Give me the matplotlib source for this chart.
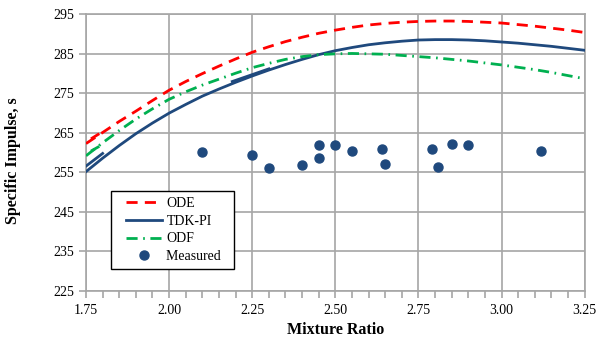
import matplotlib
matplotlib.use("Agg")
import matplotlib.pyplot as plt
from matplotlib.lines import Line2D
from matplotlib.legend_handler import HandlerLine2D
from matplotlib.ticker import MultipleLocator, FixedLocator

plt.rcParams['font.family'] = ['Liberation Serif', 'DejaVu Serif']

# mixture ratio grid for the model curves
mr = [1.75, 1.80, 1.85, 1.90, 1.95, 2.00, 2.05, 2.10, 2.15, 2.20, 2.25,
      2.30, 2.35, 2.40, 2.45, 2.50, 2.55, 2.60, 2.65, 2.70, 2.75,
      2.80, 2.85, 2.90, 2.95, 3.00, 3.05, 3.10, 3.15, 3.20, 3.25]
isp_ode = [262.3, 265.1, 267.9, 270.5, 273.2, 275.8, 278.0, 280.0, 281.9, 283.7, 285.4,
           286.8, 288.1, 289.2, 290.2, 291.0, 291.7, 292.3, 292.7, 293.0, 293.2,
           293.3, 293.3, 293.2, 293.0, 292.8, 292.4, 292.0, 291.5, 291.0, 290.4]
isp_tdk = [255.2, 258.6, 261.8, 264.8, 267.5, 270.0, 272.2, 274.3, 276.1, 277.8, 279.4,
           280.9, 282.3, 283.6, 284.8, 285.8, 286.6, 287.3, 287.8, 288.2, 288.5,
           288.6, 288.6, 288.5, 288.3, 288.0, 287.7, 287.3, 286.9, 286.4, 285.9]
isp_odf = [259.2, 262.5, 265.6, 268.5, 271.1, 273.5, 275.4, 277.1, 278.6, 280.1, 281.5,
           282.6, 283.6, 284.3, 284.8, 285.0, 285.1, 285.0, 284.9, 284.6, 284.3,
           284.0, 283.6, 283.2, 282.7, 282.2, 281.6, 281.0, 280.3, 279.5, 278.7]

# short doubled pieces of the model traces
tdk_extra_x = [1.75, 1.80]
tdk_extra_y = [256.6, 259.8]
tdk_extra2_x = [2.19, 2.30]
tdk_extra2_y = [278.0, 281.2]
odf_extra_x = [1.765, 1.79]
odf_extra_y = [260.4, 261.6]
ode_extra_x = [1.765, 1.79]
ode_extra_y = [263.5, 264.8]

# test data
mr_meas = [2.10, 2.25, 2.30, 2.40, 2.45, 2.45, 2.50, 2.55, 2.64, 2.65, 2.79, 2.81, 2.85, 2.90, 3.12]
isp_meas = [260.2, 259.5, 256.2, 257.0, 261.9, 258.7, 261.9, 260.3, 261.0, 257.2, 261.0, 256.5, 262.3, 261.9, 260.3]

y_ticks = [225, 235, 245, 255, 265, 275, 285, 295]

RED = '#ff0000'
BLUE = '#1f497d'
GREEN = '#00b050'
GRID = '#a6a6a6'

fig = plt.figure(figsize=(5.96, 3.41), dpi=100)
ax = fig.add_axes([0.1443, 0.1466, 0.8367, 0.8114])

lw = 2.0
ax.plot(mr, isp_ode, color=RED, lw=lw, dashes=(4, 2.6), label='ODE', zorder=3)
ax.plot(mr, isp_tdk, color=BLUE, lw=lw, label='TDK-PI', zorder=3)
ax.plot(mr, isp_odf, color=GREEN, lw=lw, dashes=(4, 2, 0.6, 2), label='ODF', zorder=3)
ax.plot(tdk_extra_x, tdk_extra_y, color=BLUE, lw=lw, zorder=3)
ax.plot(tdk_extra2_x, tdk_extra2_y, color=BLUE, lw=lw, zorder=3)
ax.plot(odf_extra_x, odf_extra_y, color=GREEN, lw=lw, dashes=(4, 2, 0.6, 2), zorder=3)
ax.plot(ode_extra_x, ode_extra_y, color=RED, lw=lw, dashes=(4, 2.6), zorder=3)
ax.plot(mr_meas, isp_meas, 'o', color=BLUE, ms=6.5, label='Measured  ', zorder=4)

ax.set_xlim(1.75, 3.25)
ax.set_ylim(225, 295)
ax.xaxis.set_major_locator(MultipleLocator(0.25))
ax.xaxis.set_minor_locator(MultipleLocator(0.05))
ax.yaxis.set_major_locator(FixedLocator(y_ticks))
ax.set_xticklabels([f"{v:.2f}" for v in ax.get_xticks()])

ax.grid(True, which='major', color=GRID, lw=1.2)
for s in ax.spines.values():
    s.set_color(GRID)
    s.set_linewidth(1.2)
ax.tick_params(which='both', direction='out', color=GRID, width=1.2, length=5, labelsize=10)
ax.tick_params(axis='x', pad=4)

ax.set_xlabel('Mixture Ratio', fontsize=11.5, fontweight='bold')
ax.set_ylabel('Specific Impulse, s', fontsize=11.5, fontweight='bold')
ax.yaxis.set_label_coords(-0.13, 0.47)

leg = ax.legend(loc='lower left', bbox_to_anchor=(0.05, 0.08), fontsize=10,
                handlelength=3.3, fancybox=False, framealpha=1, borderpad=0.4,
                borderaxespad=0, labelspacing=0.35, handletextpad=0.3,
                handler_map={Line2D: HandlerLine2D(xpad=0.65)})
leg.get_frame().set_edgecolor('black')
leg.get_frame().set_linewidth(1.0)

fig.savefig('out.png', dpi=100)
